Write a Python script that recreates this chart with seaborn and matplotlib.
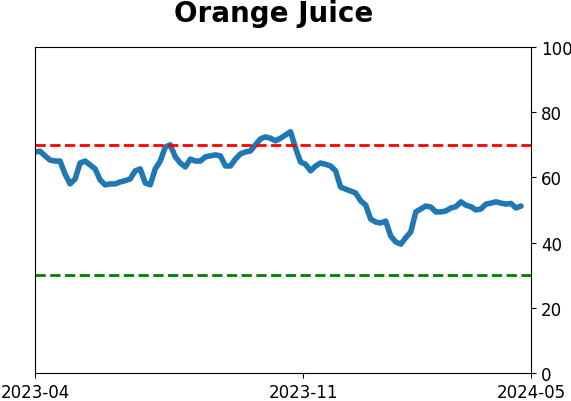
import numpy as np
import pandas as pd
import matplotlib
matplotlib.use("Agg")
import matplotlib.pyplot as plt
import seaborn as sns

# values, one every 4 days from 2023-04-01
values = [
    67.8, 68.0, 66.6, 65.3, 65.0, 65.0, 61.0, 58.0, 59.5, 64.4,
    65.0, 63.8, 62.6, 59.2, 57.7, 58.0, 58.0, 58.6, 59.0, 59.5,
    62.0, 62.6, 58.3, 57.7, 62.6, 65.0, 69.3, 70.0, 66.3, 64.4,
    63.2, 65.6, 65.0, 65.0, 66.3, 66.6, 66.9, 66.6, 63.5, 63.5,
    65.6, 67.2, 67.8, 68.1, 70.0, 71.8, 72.4, 72.0, 71.2, 72.0,
    73.0, 74.0, 69.0, 64.7, 64.0, 62.0, 63.5, 64.4, 64.0, 63.5,
    62.0, 57.0, 56.4, 55.8, 55.2, 52.8, 51.5, 47.2, 46.3, 46.0,
    46.6, 42.0, 40.2, 39.5, 41.5, 43.3, 49.4, 50.3, 51.2, 50.9,
    49.4, 49.4, 49.7, 50.6, 51.0, 52.5, 51.5, 51.0, 50.0, 50.3,
    51.8, 52.1, 52.5, 52.1, 51.8, 52.0, 50.6, 51.2,
]
dates = pd.date_range("2023-04-01", periods=len(values), freq="4D")
df = pd.DataFrame({"date": dates, "value": values})

upper_line = 70
lower_line = 30
x_ticks = ["2023-04-01", "2023-11-01", "2024-05-01"]
x_ticklabels = ["2023-04", "2023-11", "2024-05"]

sns.set_style("ticks")
plt.rcParams["font.family"] = ["DejaVu Sans"]
plt.rcParams["text.color"] = "black"
plt.rcParams["xtick.color"] = "black"
plt.rcParams["ytick.color"] = "black"

fig = plt.figure(figsize=(5.71, 4.02), dpi=100)
ax = fig.add_axes([0.0613, 0.0697, 0.8687, 0.8110])

sns.lineplot(data=df, x="date", y="value", ax=ax, color="#1f77b4", linewidth=4)
ax.axhline(upper_line, color="red", linestyle="--", linewidth=2)
ax.axhline(lower_line, color="green", linestyle="--", linewidth=2)

ax.set_ylim(0, 100)
ax.set_xlim(pd.Timestamp("2023-04-01"), pd.Timestamp("2024-05-01"))
ax.set_xticks([pd.Timestamp(t) for t in x_ticks])
ax.set_xticklabels(x_ticklabels)
ax.yaxis.tick_right()
ax.set_yticks([0, 20, 40, 60, 80, 100])
ax.tick_params(labelsize=12, colors="black")
ax.set_xlabel("")
ax.set_ylabel("")
for s in ax.spines.values():
    s.set_visible(True)
    s.set_color("black")

fig.suptitle("Orange Juice", fontsize=20, fontweight="bold", x=0.48, y=1.0, color="black")

fig.savefig("out.png", dpi=100)
